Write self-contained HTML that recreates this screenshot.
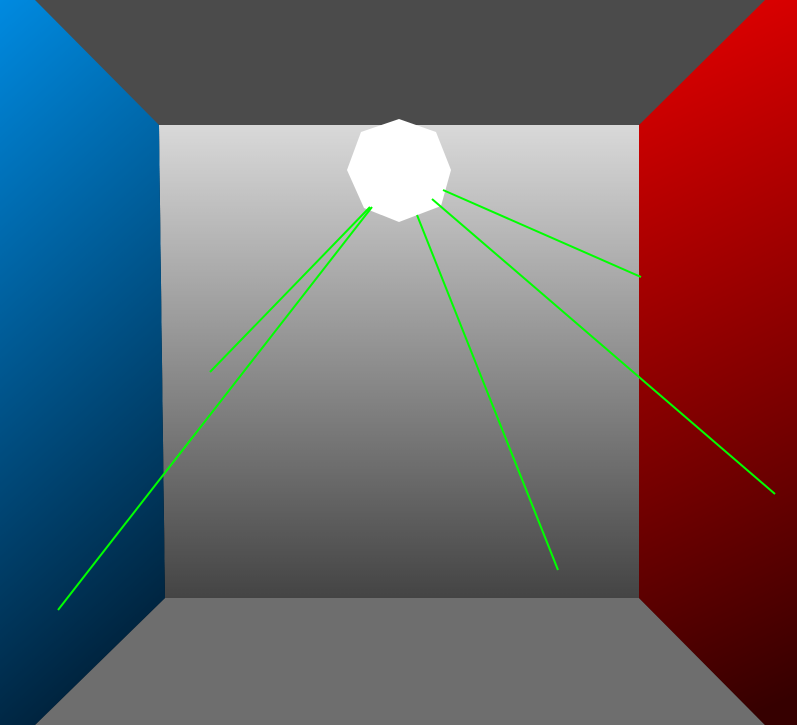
<!DOCTYPE html>
<html><head><meta charset="utf-8"><style>html,body{margin:0;padding:0;background:#000}svg{display:block}</style></head>
<body>
<svg id="scene" width="797" height="725" viewBox="0 0 797 725" xmlns="http://www.w3.org/2000/svg">
<defs>
<linearGradient id="back" x1="0" y1="0" x2="0" y2="1"><stop offset="0" stop-color="#d9d9d9"/><stop offset="1" stop-color="#444"/></linearGradient>
<linearGradient id="blue" x1="0" y1="0" x2="0.2" y2="1"><stop offset="0" stop-color="#008ae0"/><stop offset="1" stop-color="#00243f"/></linearGradient>
<linearGradient id="red" x1="0.5" y1="0" x2="0.6" y2="1"><stop offset="0" stop-color="#de0000"/><stop offset="1" stop-color="#360000"/></linearGradient>
</defs>
<polygon points="0,0 797,0 639,125 159,125" fill="#4b4b4b"/>
<polygon points="165,598 639,598 765,725 35,725" fill="#6e6e6e"/>
<polygon points="159,125 639,125 639,598 165,598" fill="url(#back)"/>
<polygon points="0,0 35,0 159,125 165,598 35,725 0,725" fill="url(#blue)"/>
<polygon points="765,0 797,0 797,725 765,725 639,598 639,125" fill="url(#red)"/>
<polygon points="399,119 436,132 451,170 441,206 399,222 364,208 347,170 361,132" fill="#fff"/>
<g id="rays"></g>
</svg>
<script>
const rayStartX = [370, 372, 417, 432, 443];
const rayStartY = [207, 207, 215, 199, 190];
const rayEndX = [210, 58, 558, 775, 641];
const rayEndY = [372, 610, 570, 494, 277];
const g = document.getElementById('rays');
for (let i = 0; i < rayStartX.length; i++) {
  const l = document.createElementNS('http://www.w3.org/2000/svg', 'line');
  l.setAttribute('x1', rayStartX[i]); l.setAttribute('y1', rayStartY[i]);
  l.setAttribute('x2', rayEndX[i]); l.setAttribute('y2', rayEndY[i]);
  l.setAttribute('stroke', '#00ff00'); l.setAttribute('stroke-width', '2');
  
  
  g.appendChild(l);
}
</script>
</body></html>
